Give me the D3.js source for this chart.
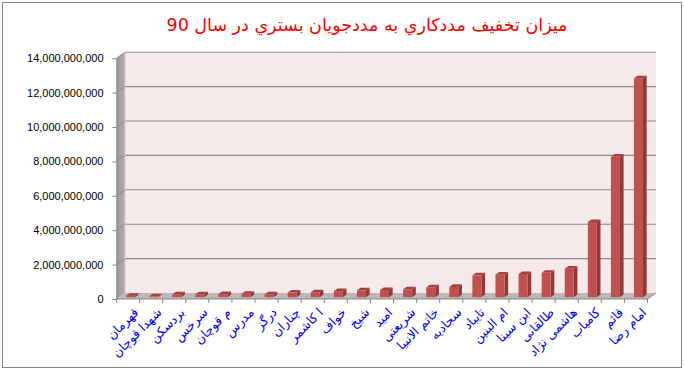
<!DOCTYPE html>
<html>
<head>
<meta charset="utf-8">
<script src="https://cdn.jsdelivr.net/npm/d3@7"></script>
<style>
  body { margin: 0; background: #fff; }
  svg { display: block; font-family: "DejaVu Sans", sans-serif; }
</style>
</head>
<body>
<svg id="chart" width="684" height="370"></svg>
<script>
// Chart data.
var chartTitle = "میزان تخفیف مددکاري به مددجويان بستري در سال 90";
var categories = ["قهرمان", "شهدا قوچان", "بردسکن", "سرخس", "م قوچان", "مدرس", "درگز",
  "چناران", "ا کاشمر", "خواف", "شیخ", "امید", "شریعتی", "خاتم الانبیا", "سجادیه",
  "تایباد", "ام البنین", "ابن سینا", "طالقانی", "هاشمی نژاد", "کامیاب", "قائم", "امام رضا"];
var values = [80e6, 50e6, 170e6, 170e6, 180e6, 200e6, 170e6,
  270e6, 290e6, 350e6, 400e6, 420e6, 460e6, 580e6, 600e6,
  1270e6, 1310e6, 1350e6, 1420e6, 1660e6, 4370e6, 8170e6, 12730e6];
var yTicks = [0, 2e9, 4e9, 6e9, 8e9, 10e9, 12e9, 14e9];

var svg = d3.select("#chart");

// 3D depth offset of the back wall.
var DX = 8.5, DY = -6;

var x = d3.scaleBand()
  .domain(categories)
  .range([116.5, 647.5]);

var y = d3.scaleLinear()
  .domain([0, 14e9])
  .range([299, 58.2]);

var x0 = x.range()[0], x1 = x.range()[1];
var yb = y(0), yt = y(14e9);

// Outer border.
svg.append("rect")
  .attr("x", 2.5).attr("y", 2.5)
  .attr("width", 679).attr("height", 365)
  .attr("fill", "none")
  .attr("stroke", "#868686");

// Title.
svg.append("text")
  .attr("x", 367).attr("y", 31)
  .attr("text-anchor", "middle")
  .attr("fill", "#ff0000")
  .style("font-size", "17.5px")
  .text(chartTitle);

// Back wall.
svg.append("rect")
  .attr("x", x0 + DX).attr("y", yt + DY)
  .attr("width", x1 - x0).attr("height", yb - yt)
  .attr("fill", "#f5e9e9");

// Left side wall.
var sideGrad = svg.append("defs").append("linearGradient")
  .attr("id", "sideGrad").attr("x1", 0).attr("x2", 1).attr("y1", 0).attr("y2", 0);
sideGrad.append("stop").attr("offset", "0%").attr("stop-color", "#9e9898");
sideGrad.append("stop").attr("offset", "100%").attr("stop-color", "#b3adad");

svg.append("polygon")
  .attr("points", [[x0, yb], [x0 + DX, yb + DY], [x0 + DX, yt + DY], [x0, yt]].join(" "))
  .attr("fill", "url(#sideGrad)");

// Floor.
svg.append("polygon")
  .attr("points", [[x0, yb], [x1, yb], [x1 + DX, yb + DY], [x0 + DX, yb + DY]].join(" "))
  .attr("fill", "#bdb8b8");

// Gridlines on the back wall and the side wall.
var grid = svg.append("g");
yTicks.slice(1).forEach(function(t){
  grid.append("line")
    .attr("x1", x0 + DX).attr("x2", x1 + DX)
    .attr("y1", y(t) + DY).attr("y2", y(t) + DY)
    .attr("stroke", "#8c8c8c").attr("stroke-width", 1.1);
  grid.append("line")
    .attr("x1", x0).attr("x2", x0 + DX)
    .attr("y1", y(t)).attr("y2", y(t) + DY)
    .attr("stroke", "#8c8c8c").attr("stroke-width", 1);
});
grid.append("line")
  .attr("x1", x0 + DX).attr("x2", x0 + DX)
  .attr("y1", yt + DY).attr("y2", yb + DY)
  .attr("stroke", "#d8d0d0").attr("stroke-width", 0.8);

// Bars as 3D boxes: front, side, top.
var barW = 9;
var ox = 0.3 * DX, oy = 0.3 * DY;
var bdx = 0.43 * DX, bdy = 0.43 * DY;

var bars = svg.append("g").selectAll("g")
  .data(values)
  .join("g");

bars.each(function(v, i){
  var g = d3.select(this);
  var fx = x(categories[i]) + (x.bandwidth() - barW) / 2 + ox;
  var top = y(v) + oy, bot = yb + oy;
  g.append("polygon")
    .attr("points", [[fx + barW, bot], [fx + barW + bdx, bot + bdy],
      [fx + barW + bdx, top + bdy], [fx + barW, top]].join(" "))
    .attr("fill", "#8e3a38");
  g.append("polygon")
    .attr("points", [[fx, top], [fx + barW, top], [fx + barW + bdx, top + bdy],
      [fx + bdx, top + bdy]].join(" "))
    .attr("fill", "#a5403d");
  g.append("rect")
    .attr("x", fx).attr("y", top)
    .attr("width", barW).attr("height", bot - top)
    .attr("fill", "#c0504d");
});

// Y axis.
var yAxis = svg.append("g")
  .attr("transform", "translate(" + x0 + ",0)")
  .call(d3.axisLeft(y).tickValues(yTicks).tickFormat(d3.format(",")).tickSize(4).tickSizeOuter(0));
yAxis.select(".domain").attr("stroke", "#868686");
yAxis.selectAll(".tick line").attr("stroke", "#868686");
yAxis.selectAll("text")
  .attr("x", -13)
  .attr("fill", "#000")
  .style("font-size", "11px");

// X axis with tick marks at band edges.
var xAxis = svg.append("g")
  .attr("transform", "translate(0," + yb + ")");
xAxis.append("line")
  .attr("x1", x0).attr("x2", x1)
  .attr("stroke", "#868686");
xAxis.append("line")
  .attr("x1", x1).attr("y1", 0).attr("x2", x1 + DX).attr("y2", DY)
  .attr("stroke", "#868686");
xAxis.selectAll("line.tick")
  .data(d3.range(categories.length + 1))
  .join("line")
  .attr("class", "tick")
  .attr("x1", function(d){ return x0 + d * x.step(); })
  .attr("x2", function(d){ return x0 + d * x.step(); })
  .attr("y1", 0).attr("y2", 4)
  .attr("stroke", "#868686");

xAxis.selectAll("text")
  .data(categories)
  .join("text")
  .attr("transform", function(d){
    return "translate(" + (x(d) + x.bandwidth() / 2 + 5) + ",8) rotate(-45)";
  })
  .attr("text-anchor", "end")
  .attr("dy", "0.7em")
  .attr("fill", "#0000ff")
  .style("font-size", "12.5px")
  .text(function(d){ return d; });
</script>
</body>
</html>
